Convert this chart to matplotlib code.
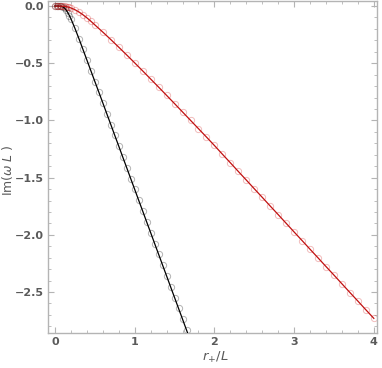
import matplotlib
matplotlib.use("Agg")
import matplotlib.pyplot as plt
from matplotlib.ticker import MultipleLocator

# Red branch
red_x = [0.00, 0.02, 0.04, 0.06, 0.08, 0.10, 0.12, 0.14, 0.16, 0.18, 0.20,
         0.25, 0.30, 0.35, 0.40, 0.45, 0.50, 0.60, 0.70, 0.80, 0.90, 1.00,
         1.10, 1.20, 1.30, 1.40, 1.50, 1.60, 1.70, 1.80, 1.90, 2.00,
         2.10, 2.20, 2.30, 2.40, 2.50, 2.60, 2.70, 2.80, 2.90, 3.00,
         3.10, 3.20, 3.30, 3.40, 3.50, 3.60, 3.70, 3.80, 3.90, 4.00]
red_y = [0.000, 0.000, 0.000, -0.001, -0.001, -0.002, -0.003, -0.005, -0.008, -0.012, -0.017,
         -0.032, -0.052, -0.076, -0.103, -0.133, -0.165, -0.228, -0.293, -0.360, -0.428, -0.497,
         -0.567, -0.638, -0.709, -0.781, -0.853, -0.926, -0.999, -1.072, -1.145, -1.219,
         -1.295, -1.370, -1.446, -1.521, -1.597, -1.672, -1.748, -1.823, -1.899, -1.975,
         -2.050, -2.126, -2.201, -2.277, -2.352, -2.428, -2.504, -2.579, -2.655, -2.730]

# Black branch
blk_x = [0.00, 0.02, 0.04, 0.06, 0.08, 0.10, 0.12, 0.14, 0.16, 0.18, 0.20,
         0.25, 0.30, 0.35, 0.40, 0.45, 0.50, 0.55, 0.60, 0.65, 0.70, 0.75,
         0.80, 0.85, 0.90, 0.95, 1.00, 1.05, 1.10, 1.15, 1.20, 1.25, 1.30,
         1.35, 1.40, 1.45, 1.50, 1.55, 1.60, 1.65, 1.70]
blk_y = [0.000, 0.000, 0.000, -0.001, -0.003, -0.008, -0.018, -0.035, -0.057, -0.083, -0.112,
         -0.195, -0.285, -0.378, -0.472, -0.566, -0.660, -0.753, -0.847, -0.942, -1.036, -1.131,
         -1.225, -1.320, -1.414, -1.509, -1.603, -1.698, -1.792, -1.887, -1.981, -2.076, -2.170,
         -2.265, -2.359, -2.454, -2.548, -2.643, -2.737, -2.832, -2.926]

x_ticks = [0, 1, 2, 3, 4]
x_ticklabels = ["0", "1", "2", "3", "4"]
y_ticks = [0.0, -0.5, -1.0, -1.5, -2.0, -2.5]
y_ticklabels = ["0.0", "\u22120.5", "\u22121.0", "\u22121.5", "\u22122.0", "\u22122.5"]

W, H = 382, 368
fig = plt.figure(figsize=(W / 100, H / 100), dpi=100)
ax = fig.add_axes([48 / W, 1 - 333 / H, (377 - 48) / W, (333 - 1) / H])

frame_col = "#b4b4b4"
text_col = "#5a5a5a"

ax.plot(blk_x, blk_y, color="black", lw=0.9, zorder=3)
ax.plot(blk_x, blk_y, ls="none", marker="o", ms=4.5, mfc="none",
        mec="black", mew=0.7, alpha=0.3, zorder=2)
ax.plot(red_x, red_y, color="#c01010", lw=0.9, zorder=3)
ax.plot(red_x, red_y, ls="none", marker="o", ms=4.5, mfc="none",
        mec="#d02020", mew=0.7, alpha=0.3, zorder=2)

ax.set_xlim(-0.088, 4.04)
ax.set_ylim(-2.858, 0.044)

ax.xaxis.set_minor_locator(MultipleLocator(0.2))
ax.yaxis.set_minor_locator(MultipleLocator(0.1))

for s in ax.spines.values():
    s.set_color(frame_col)
    s.set_linewidth(1.0)

ax.tick_params(which="both", direction="in", top=True, right=True,
               color=frame_col, labelcolor=text_col, labelsize=8)
ax.tick_params(which="major", length=4, width=0.8)
ax.tick_params(axis="x", which="major", pad=3)
ax.tick_params(axis="y", which="major", pad=3)
ax.tick_params(which="minor", length=2, width=0.6)

ax.set_xticks(x_ticks)
ax.set_xticklabels(x_ticklabels, fontweight="bold")
ax.set_yticks(y_ticks)
ax.set_yticklabels(y_ticklabels, fontweight="bold")

ax.set_xlabel(r"$r_{+}/L$", color=text_col, fontsize=9.5)
ax.set_ylabel(r"Im($\omega$ $L$ )", color=text_col, fontsize=9)
ax.xaxis.set_label_coords(0.508, -0.050)
ax.yaxis.set_label_coords(-0.100, 0.49)

fig.savefig("out.png", dpi=100)
